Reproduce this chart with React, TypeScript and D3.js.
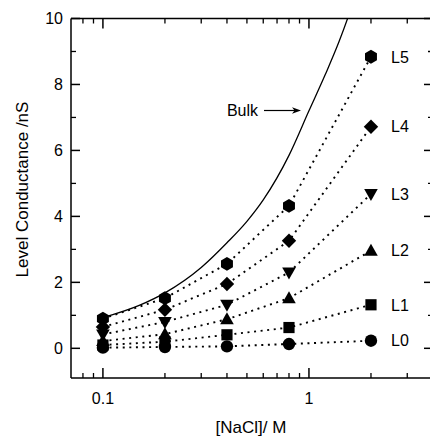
import React from "react";
import * as d3 from "d3";

const concentrations = [0.1, 0.2, 0.4, 0.8, 2];
const seriesNames = ["L0", "L1", "L2", "L3", "L4", "L5"];
const L0 = [0.02, 0.04, 0.06, 0.13, 0.23];
const L1 = [0.1, 0.2, 0.41, 0.63, 1.32];
const L2 = [0.22, 0.43, 0.88, 1.52, 2.96];
const L3 = [0.42, 0.8, 1.32, 2.3, 4.68];
const L4 = [0.65, 1.17, 1.95, 3.26, 6.72];
const L5 = [0.9, 1.52, 2.56, 4.32, 8.84];
const seriesValues = [L0, L1, L2, L3, L4, L5];

const bulkConc = [0.1, 0.15, 0.2, 0.3, 0.4, 0.5, 0.6, 0.8, 1, 1.2, 1.4, 1.6, 1.8];
const bulkValues = [0.93, 1.3, 1.68, 2.45, 3.2, 3.85, 4.5, 5.85, 7.2, 8.3, 9.3, 10.3, 11.3];

const xMajorTicks = [0.1, 1];
const xMinorTicks = [0.08, 0.09, 0.2, 0.3, 0.4, 0.5, 0.6, 0.7, 0.8, 0.9, 2, 3];
const yMajorTicks = [0, 2, 4, 6, 8, 10];
const yMinorTicks = [1, 3, 5, 7, 9];

const FONT = "'Liberation Sans', Arial, Helvetica, sans-serif";

function polygon(pts: [number, number][]) {
  const p = d3.path();
  pts.forEach(([a, b], i) => (i === 0 ? p.moveTo(a, b) : p.lineTo(a, b)));
  p.closePath();
  return p.toString();
}

function markerPath(kind: number): string {
  switch (kind) {
    case 0: {
      const p = d3.path();
      p.arc(0, 0, 6.2, 0, Math.PI * 2);
      return p.toString();
    }
    case 1:
      return polygon([[-5.6, -5.6], [5.6, -5.6], [5.6, 5.6], [-5.6, 5.6]]);
    case 2:
      return polygon([[0, -7], [6.8, 5], [-6.8, 5]]);
    case 3:
      return polygon([[0, 7], [6.8, -5], [-6.8, -5]]);
    case 4:
      return polygon([[0, -7.2], [7.2, 0], [0, 7.2], [-7.2, 0]]);
    default: {
      const pts: [number, number][] = d3.range(6).map((k) => {
        const a = ((-90 + k * 60) * Math.PI) / 180;
        return [6.9 * Math.cos(a), 6.9 * Math.sin(a)];
      });
      return polygon(pts);
    }
  }
}

export default function App() {
  const W = 430;
  const H = 438;
  const x = d3.scaleLog().domain([0.07, 4]).range([71, 433]);
  const y = d3.scaleLinear().domain([-0.9, 10]).range([378, 18.5]);
  const [x0, x1] = x.range();
  const [yb, yt] = y.range();

  const line = d3
    .line<number>()
    .x((_, i) => x(concentrations[i]))
    .y((d) => y(d));

  const bulkLine = d3
    .line<number>()
    .x((_, i) => x(bulkConc[i]))
    .y((d) => y(d))
    .curve(d3.curveMonotoneX);

  const axisW = 1.5;

  return (
    <svg
      width={W}
      height={H}
      style={{ position: "absolute", left: 0, top: 0, background: "#fff" }}
      fontFamily={FONT}
    >
      <defs>
        <clipPath id="plot">
          <rect x={x0} y={yt} width={x1 - x0} height={yb - yt} />
        </clipPath>
      </defs>
      <rect width={W} height={H} fill="#fff" />

      {/* frame */}
      <line x1={x0} x2={x0} y1={yt} y2={yb} stroke="#000" strokeWidth={axisW} />
      <line x1={x1} x2={x1} y1={yt} y2={yb} stroke="#000" strokeWidth={axisW} />
      <line x1={x0} x2={x1} y1={yb} y2={yb} stroke="#000" strokeWidth={axisW} />
      <line x1={x0} x2={x1} y1={yt} y2={yt} stroke="#000" strokeWidth={axisW} />

      {/* x ticks */}
      {xMajorTicks.map((t) => (
        <g key={"xM" + t}>
          <line x1={x(t)} x2={x(t)} y1={yb} y2={yb - 10} stroke="#000" strokeWidth={1.5} />
          <line x1={x(t)} x2={x(t)} y1={yt} y2={yt + 10} stroke="#000" strokeWidth={1.5} />
          <text x={x(t)} y={404} textAnchor="middle" fontSize={16}>
            {String(t)}
          </text>
        </g>
      ))}
      {xMinorTicks.map((t) => (
        <g key={"xm" + t}>
          <line x1={x(t)} x2={x(t)} y1={yb} y2={yb - 5} stroke="#000" strokeWidth={1.3} />
          <line x1={x(t)} x2={x(t)} y1={yt} y2={yt + 5} stroke="#000" strokeWidth={1.3} />
        </g>
      ))}

      {/* y ticks */}
      {yMajorTicks.map((t) => (
        <g key={"yM" + t}>
          <line x1={x0} x2={x0 + 9} y1={y(t)} y2={y(t)} stroke="#000" strokeWidth={1.5} />
          <line x1={x1} x2={x1 - 9} y1={y(t)} y2={y(t)} stroke="#000" strokeWidth={1.5} />
          <text x={63} y={y(t)} dy="0.36em" textAnchor="end" fontSize={16}>
            {String(t)}
          </text>
        </g>
      ))}
      {yMinorTicks.map((t) => (
        <g key={"ym" + t}>
          <line x1={x0} x2={x0 + 5} y1={y(t)} y2={y(t)} stroke="#000" strokeWidth={1.3} />
          <line x1={x1} x2={x1 - 5} y1={y(t)} y2={y(t)} stroke="#000" strokeWidth={1.3} />
        </g>
      ))}

      {/* bulk curve */}
      <g clipPath="url(#plot)">
        <path d={bulkLine(bulkValues) || ""} fill="none" stroke="#000" strokeWidth={1.3} />
      </g>

      {/* series */}
      {seriesValues.map((vals, si) => (
        <g key={seriesNames[si]}>
          <path
            d={line(vals) || ""}
            fill="none"
            stroke="#000"
            strokeWidth={1.9}
            strokeDasharray="2 4.6"
          />
          {vals.map((v, i) => (
            <path
              key={i}
              d={markerPath(si)}
              transform={`translate(${x(concentrations[i])},${y(v)})`}
              fill="#000"
            />
          ))}
          <text
            x={391}
            y={y(vals[vals.length - 1])}
            dy="0.36em"
            fontSize={16}
          >
            {seriesNames[si]}
          </text>
        </g>
      ))}

      {/* Bulk annotation */}
      <text x={258} y={116} textAnchor="end" fontSize={16}>
        Bulk
      </text>
      <line x1={264} x2={296} y1={110.5} y2={110.5} stroke="#000" strokeWidth={1.2} />
      <path d="M301,110.5 L292,107.3 L294.5,110.5 L292,113.7 Z" fill="#000" />

      {/* axis labels */}
      <text
        transform="translate(28,189.5) rotate(-90)"
        textAnchor="middle"
        fontSize={17}
      >
        Level Conductance /nS
      </text>
      <text x={251} y={433} textAnchor="middle" fontSize={17}>
        [NaCl]/ M
      </text>
    </svg>
  );
}
